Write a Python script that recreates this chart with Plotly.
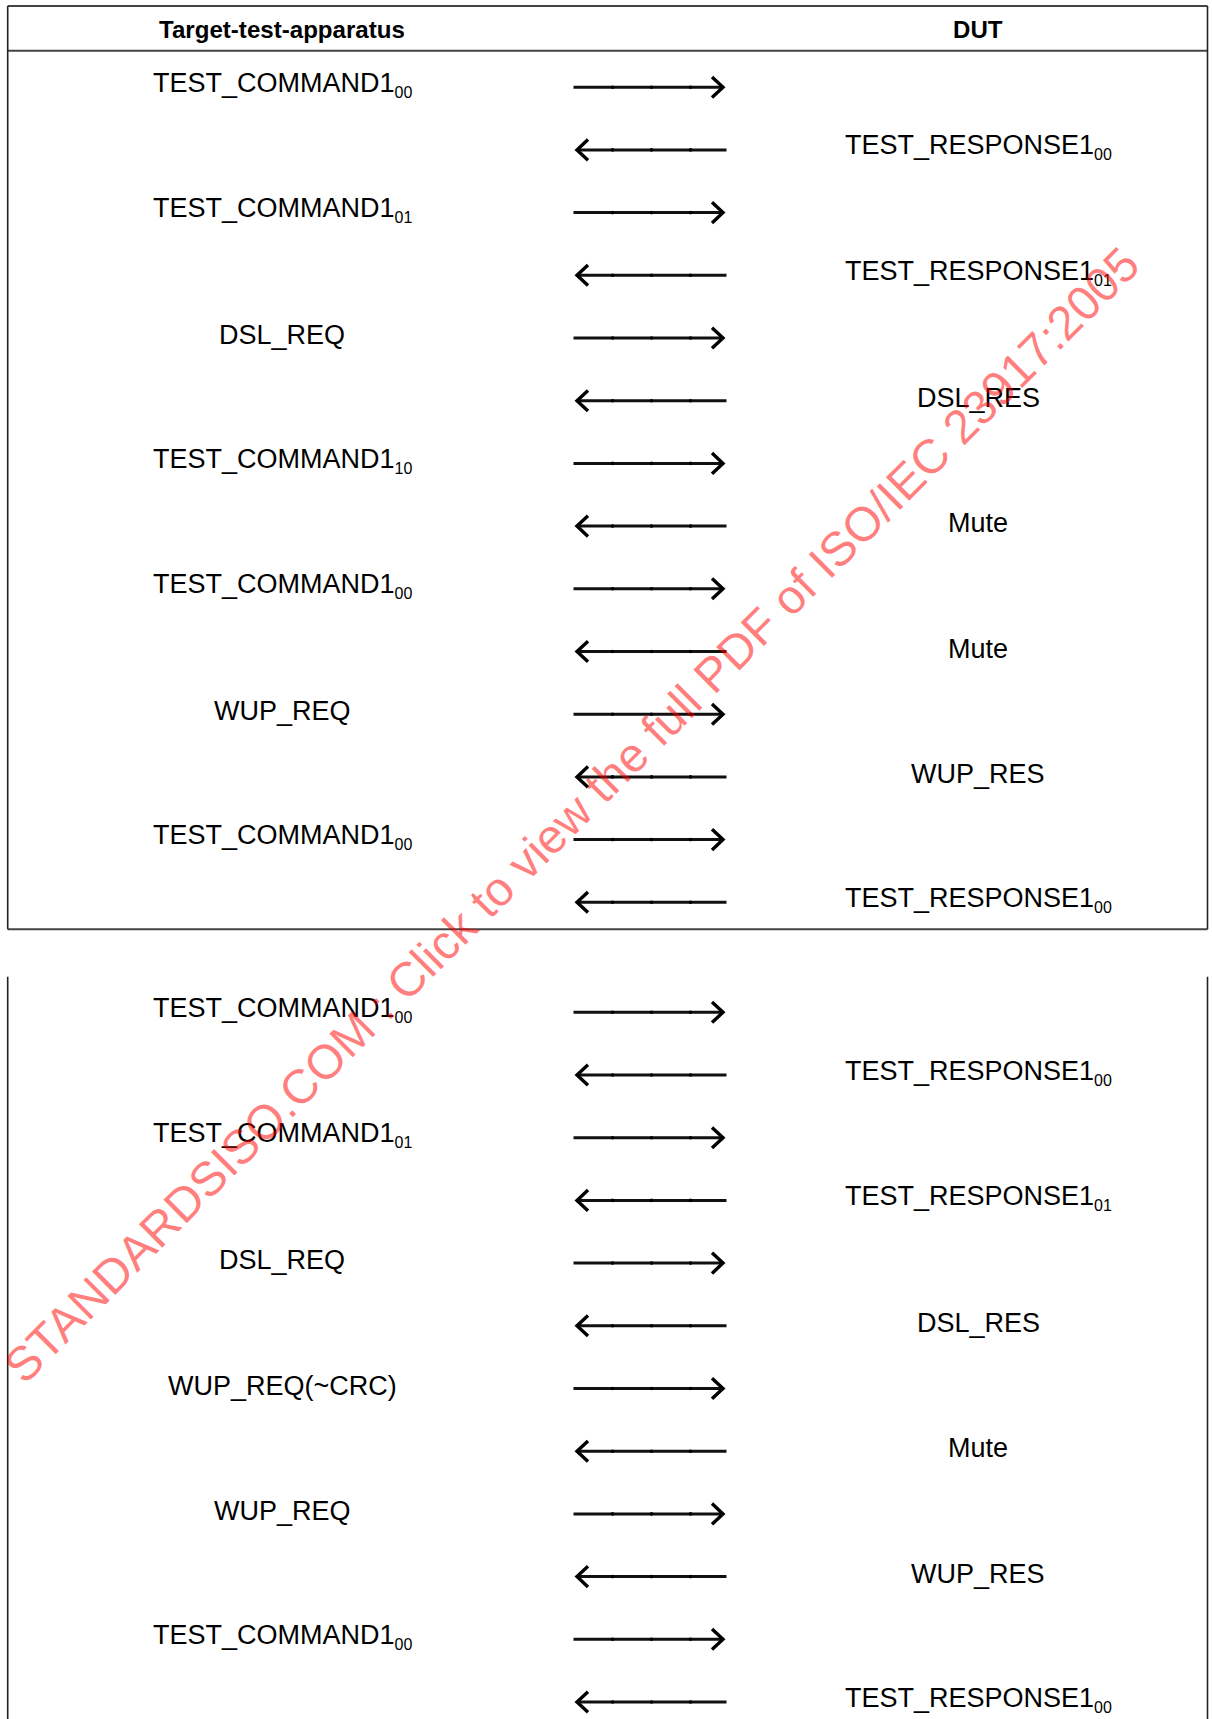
import plotly.graph_objects as go

# ---------------- data ----------------
header_left = "Target-test-apparatus"
header_right = "DUT"

# table 1 sequence
t1_labels = ["TEST_COMMAND1", "TEST_RESPONSE1", "TEST_COMMAND1", "TEST_RESPONSE1",
             "DSL_REQ", "DSL_RES", "TEST_COMMAND1", "Mute",
             "TEST_COMMAND1", "Mute", "WUP_REQ", "WUP_RES",
             "TEST_COMMAND1", "TEST_RESPONSE1"]
t1_subs = ["00", "00", "01", "01", "", "", "10", "", "00", "", "", "", "00", "00"]
t1_dirs = ["right", "left"] * 7

# table 2 sequence
t2_labels = ["TEST_COMMAND1", "TEST_RESPONSE1", "TEST_COMMAND1", "TEST_RESPONSE1",
             "DSL_REQ", "DSL_RES", "WUP_REQ(~CRC)", "Mute",
             "WUP_REQ", "WUP_RES", "TEST_COMMAND1", "TEST_RESPONSE1"]
t2_subs = ["00", "00", "01", "01", "", "", "", "", "", "", "00", "00"]
t2_dirs = ["right", "left"] * 6

watermark = "STANDARDSISO.COM : Click to view the full PDF of ISO/IEC 23917:2005"

# ---------------- layout constants ----------------
W, H = 1212, 1719
FONT = "Liberation Sans, Arial, Helvetica, sans-serif"
LEFT_X, RIGHT_X = 282, 978
BORDER_L, BORDER_R = 7.7, 1207.5
TOP_Y, HEAD_Y, HEAD_TXT_Y = 6, 50.7, 29.2
T1_ROW0, T2_ROW0, ROW_STEP = 87.2, 1012.3, 62.7
T1_BOTTOM, T2_TOP = 929.3, 976.7
AX0, AX1 = 573.5, 726.5
TEXT_DY = -3.0

fig = go.Figure()
shapes = []
annotations = []

def hline(y, x0, x1, color="#444444", width=2):
    shapes.append(dict(type="line", xref="x", yref="y", x0=x0, x1=x1, y0=y, y1=y,
                       line=dict(color=color, width=width)))

def vline(x, y0, y1, color="#222222", width=1.6):
    shapes.append(dict(type="line", xref="x", yref="y", x0=x, x1=x, y0=y0, y1=y1,
                       line=dict(color=color, width=width)))

# borders
hline(TOP_Y, BORDER_L, BORDER_R)
hline(HEAD_Y, BORDER_L, BORDER_R)
hline(T1_BOTTOM, BORDER_L, BORDER_R)
vline(BORDER_L, TOP_Y, T1_BOTTOM)
vline(BORDER_R, TOP_Y, T1_BOTTOM)
vline(BORDER_L, T2_TOP, H)
vline(BORDER_R, T2_TOP, H)

# headers
annotations.append(dict(x=LEFT_X, y=HEAD_TXT_Y, xref="x", yref="y", showarrow=False,
                        text="<b>" + header_left + "</b>", xanchor="center", yanchor="middle",
                        font=dict(family=FONT, size=24.1, color="black")))
annotations.append(dict(x=RIGHT_X, y=HEAD_TXT_Y, xref="x", yref="y", showarrow=False,
                        text="<b>" + header_right + "</b>", xanchor="center", yanchor="middle",
                        font=dict(family=FONT, size=24.1, color="black")))

line_x, line_y = [], []
head_x, head_y = [], []
dot_x, dot_y = [], []

def add_rows(labels, subs, dirs, row0):
    for i, (lab, sub, d) in enumerate(zip(labels, subs, dirs)):
        y = row0 + i * ROW_STEP
        txt = lab
        if sub:
            txt += '<sub><span style="font-size:16px">' + sub + '</span></sub>'
        annotations.append(dict(x=LEFT_X if d == "right" else RIGHT_X, y=y + TEXT_DY,
                                xref="x", yref="y", showarrow=False, text=txt,
                                xanchor="center", yanchor="middle",
                                font=dict(family=FONT, size=27, color="black")))
        if d == "right":
            line_x.extend([AX0, AX1 - 4, None])
            line_y.extend([y, y, None])
            tip = AX1 - 3.5
            head_x.extend([tip - 11, tip, tip - 11, None])
        else:
            line_x.extend([AX0 + 4, AX1, None])
            line_y.extend([y, y, None])
            tip = AX0 + 3.5
            head_x.extend([tip + 11, tip, tip + 11, None])
        head_y.extend([y - 10.3, y, y + 10.3, None])
        for k in (1, 2, 3):
            dot_x.append(AX0 + (AX1 - AX0) * (0.255 * k))
            dot_y.append(y)

add_rows(t1_labels, t1_subs, t1_dirs, T1_ROW0)
add_rows(t2_labels, t2_subs, t2_dirs, T2_ROW0)

fig.add_trace(go.Scatter(x=line_x, y=line_y, mode="lines",
                         line=dict(color="#111111", width=3), hoverinfo="skip"))
fig.add_trace(go.Scatter(x=head_x, y=head_y, mode="lines",
                         line=dict(color="black", width=3.4), hoverinfo="skip"))
fig.add_trace(go.Scatter(x=dot_x, y=dot_y, mode="markers",
                         marker=dict(color="black", size=3.6, symbol="circle"), hoverinfo="skip"))

# watermark
annotations.append(dict(x=571, y=815, xref="x", yref="y", showarrow=False, text=watermark,
                        textangle=-45, xanchor="center", yanchor="middle",
                        font=dict(family=FONT, size=48, color="rgba(255,0,0,0.5)")))

fig.update_layout(
    width=W, height=H,
    margin=dict(l=0, r=0, t=0, b=0),
    paper_bgcolor="white", plot_bgcolor="white",
    showlegend=False,
    xaxis=dict(range=[0, W], visible=False, fixedrange=True),
    yaxis=dict(range=[H, 0], visible=False, fixedrange=True),
    shapes=shapes, annotations=annotations,
)

fig.write_html("out.html", config={"displayModeBar": False},
               post_script="document.body.style.margin='0';document.body.style.overflow='hidden';")
